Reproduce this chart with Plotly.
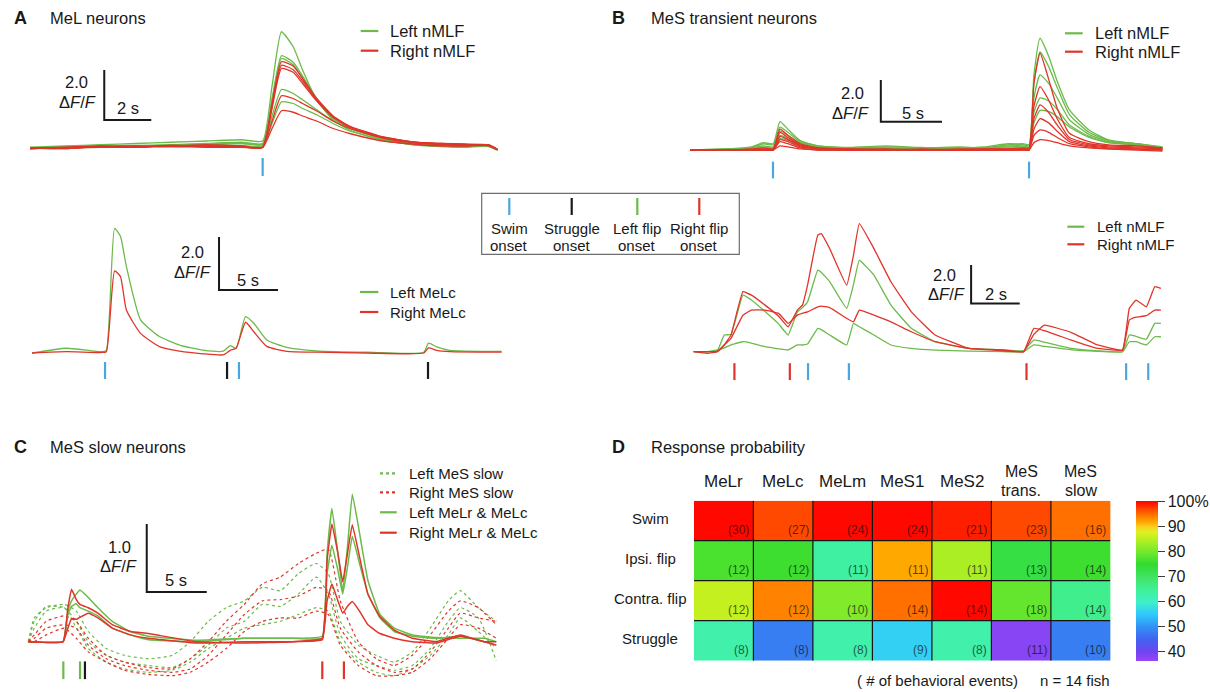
import plotly.graph_objects as go

W, H = 1210, 692
GREEN = "rgb(108,186,74)"
RED = "rgb(224,52,42)"
BLUE = "rgb(74,166,222)"
BLACK = "rgb(25,25,25)"
FONT = "Liberation Sans, Arial, Helvetica, sans-serif"
TICK_COLORS = {"swim": BLUE, "struggle": BLACK, "left": GREEN, "right": RED}

# ---------------- DATA ----------------
# Panel A (top): MeL neurons, time (s) / dF/F
A_TOP_T = [0, 1.5, 3, 4.5, 6, 7.5, 9, 9.9, 10.3, 10.7, 11.2, 11.6, 12.2, 12.9, 13.6, 15.0, 16.4, 17.5, 18.5, 19.5, 19.9]
A_TOP_GREEN = [
    [0.05, 0.1, 0.15, 0.2, 0.25, 0.3, 0.35, 0.3, 2.5, 4.67, 4.07, 3.14, 1.94, 1.14, 0.74, 0.34, 0.14, 0.1, 0.08, 0.1, -0.08],
    [0.02, 0.05, 0.1, 0.12, 0.15, 0.2, 0.25, 0.2, 2.0, 3.71, 3.45, 2.9, 2.0, 1.25, 0.85, 0.4, 0.18, 0.1, 0.08, 0.1, -0.05],
    [0.0, 0.06, 0.12, 0.1, 0.14, 0.18, 0.22, 0.18, 1.9, 3.6, 3.35, 2.8, 1.95, 1.2, 0.82, 0.38, 0.17, 0.1, 0.08, 0.1, -0.05],
    [0.0, 0.05, 0.08, 0.1, 0.12, 0.15, 0.2, 0.15, 1.3, 2.36, 2.2, 1.95, 1.55, 1.1, 0.8, 0.4, 0.18, 0.1, 0.08, 0.1, -0.05],
    [0.0, 0.03, 0.05, 0.08, 0.1, 0.1, 0.12, 0.1, 1.0, 1.87, 1.8, 1.6, 1.35, 1.0, 0.7, 0.35, 0.15, 0.08, 0.05, 0.08, -0.05],
]
A_TOP_RED = [
    [0.0, 0.05, 0.1, 0.08, 0.1, 0.15, 0.1, 0.05, 1.8, 3.47, 3.3, 2.8, 2.0, 1.3, 0.9, 0.47, 0.25, 0.18, 0.15, 0.12, -0.05],
    [0.02, 0.0, 0.08, 0.05, 0.12, 0.1, 0.08, 0.05, 1.7, 3.33, 3.15, 2.7, 1.95, 1.28, 0.88, 0.45, 0.25, 0.2, 0.16, 0.14, -0.04],
    [0.02, 0.0, 0.08, 0.05, 0.12, 0.1, 0.08, 0.05, 1.6, 3.2, 3.05, 2.6, 1.9, 1.25, 0.85, 0.45, 0.25, 0.2, 0.18, 0.15, -0.03],
    [0.0, 0.04, 0.06, 0.1, 0.08, 0.1, 0.06, 0.05, 1.1, 2.11, 2.0, 1.8, 1.5, 1.1, 0.8, 0.42, 0.22, 0.15, 0.12, 0.15, -0.05],
    [0.0, 0.02, 0.05, 0.05, 0.08, 0.05, 0.05, 0.03, 0.8, 1.51, 1.45, 1.3, 1.1, 0.8, 0.6, 0.3, 0.17, 0.1, 0.1, 0.12, -0.05],
]
A_TOP_ONSETS = [9.9]
A_TOP_KINDS = ["swim"]

# Panel A (bottom): MeLc
A_BOT_T = [0, 2.9, 5.9, 6.3, 7.0, 7.5, 8.0, 9.2, 10.8, 12.5, 14.5, 16.2, 16.8, 17.3, 18.1, 18.8, 19.9, 21.6, 24.1, 28.4, 33.2, 33.6, 34.3, 35.4, 39.8]
A_BOT_GREEN = [0, 0.18, 0.05, 0.1, 4.7, 4.4, 3.26, 1.25, 0.62, 0.3, 0.11, 0.07, 0.28, 0.18, 1.37, 1.12, 0.49, 0.21, 0.08, 0.03, 0.03, 0.37, 0.23, 0.1, 0.06]
A_BOT_RED = [0, 0.05, 0.02, 0.05, 3.1, 2.88, 1.62, 0.74, 0.24, 0.07, -0.03, -0.07, 0.1, 0.18, 1.16, 0.8, 0.25, 0.06, 0.03, 0.0, 0.0, 0.19, 0.1, 0.05, 0.03]
A_BOT_ONSETS = [6.19, 16.53, 17.54, 33.56]
A_BOT_KINDS = ["swim", "struggle", "swim", "struggle"]

# Panel B (top): MeS transient neurons
B_TOP_T = [0, 3, 5, 6.0, 6.8, 7.35, 8.0, 9.0, 10.5, 13, 16, 19, 22, 24, 26, 27.2, 27.7, 28.1, 28.6, 29.3, 30.0, 31.0, 32.6, 34.2, 36.5, 38.6]
B_TOP_GREEN = [
    [0, 0.05, 0.15, 0.35, 0.3, 1.36, 1.0, 0.45, 0.2, 0.12, 0.2, 0.1, 0.15, 0.1, 0.25, 0.3, 0.25, 3.6, 5.36, 4.5, 3.3, 1.92, 0.96, 0.48, 0.3, 0.1],
    [0, 0.0, 0.1, 0.3, 0.25, 1.1, 0.85, 0.4, 0.2, 0.1, 0.15, 0.12, 0.1, 0.15, 0.3, 0.25, 0.2, 3.2, 4.7, 4.0, 3.0, 1.7, 0.85, 0.45, 0.3, 0.1],
    [0, 0.05, 0.1, 0.2, 0.15, 0.9, 0.7, 0.35, 0.15, 0.1, 0.1, 0.05, 0.1, 0.1, 0.2, 0.2, 0.15, 2.5, 3.6, 3.2, 2.5, 1.45, 0.75, 0.4, 0.3, 0.15],
    [0, 0.0, 0.05, 0.15, 0.1, 0.7, 0.55, 0.3, 0.12, 0.08, 0.1, 0.05, 0.05, 0.1, 0.15, 0.15, 0.1, 1.8, 2.5, 2.35, 1.95, 1.2, 0.65, 0.35, 0.25, 0.1],
    [0, 0.03, 0.05, 0.1, 0.08, 0.55, 0.45, 0.25, 0.1, 0.05, 0.08, 0.05, 0.05, 0.08, 0.1, 0.1, 0.08, 1.3, 1.9, 1.85, 1.6, 1.1, 0.6, 0.35, 0.25, 0.05],
]
B_TOP_RED = [
    [0, 0.0, 0.05, 0.1, 0.05, 1.0, 0.7, 0.3, 0.1, 0.05, 0.05, 0.0, 0.05, 0.05, 0.05, 0.1, 0.1, 3.2, 4.64, 3.4, 2.0, 0.8, 0.4, 0.25, 0.2, 0.1],
    [0, 0.0, 0.0, 0.05, 0.05, 0.85, 0.6, 0.25, 0.1, 0.05, 0.0, 0.05, 0.0, 0.05, 0.05, 0.05, 0.05, 2.1, 3.04, 2.4, 1.5, 0.6, 0.3, 0.2, 0.15, 0.1],
    [0, 0.02, 0.0, 0.03, 0.0, 0.65, 0.5, 0.2, 0.05, 0.0, 0.03, 0.0, 0.0, 0.0, 0.03, 0.05, 0.0, 1.5, 2.16, 1.8, 1.2, 0.5, 0.25, 0.15, 0.1, 0.05],
    [0, 0.0, 0.02, 0.0, 0.0, 0.5, 0.4, 0.15, 0.05, 0.0, 0.0, 0.02, 0.0, 0.0, 0.0, 0.03, 0.0, 1.0, 1.5, 1.3, 0.9, 0.4, 0.2, 0.1, 0.05, 0.0],
    [0, 0.0, 0.0, 0.0, 0.0, 0.4, 0.3, 0.1, 0.0, 0.0, 0.0, 0.0, 0.0, 0.0, 0.0, 0.0, 0.0, 0.7, 0.96, 0.85, 0.6, 0.3, 0.15, 0.05, 0.05, 0.0],
    [0, 0.0, 0.0, 0.0, 0.0, 0.2, 0.15, 0.05, 0.0, 0.0, 0.0, 0.0, 0.0, 0.0, 0.0, 0.0, 0.0, 0.35, 0.5, 0.45, 0.35, 0.2, 0.1, 0.05, 0.0, -0.05],
]
B_TOP_ONSETS = [6.78, 27.7]
B_TOP_KINDS = ["swim", "swim"]

# Panel B (bottom)
B_BOT_T = [0, 0.56, 0.98, 1.26, 1.54, 2.03, 2.38, 2.94, 3.5, 3.89, 4.27, 4.48, 4.69, 5.11, 5.25, 5.6, 6.3, 6.58, 6.82,
           7.42, 8.12, 8.96, 9.94, 11.34, 12.75, 13.58, 14.0, 14.43, 15.55, 16.53, 17.65, 17.93, 18.21, 18.63, 18.98, 19.23]
B_BOT_GREEN = [
    [0, 0, 0.05, 0.87, 0.9, 2.95, 2.7, 2.1, 1.45, 0.87, 2.08, 2.3, 2.6, 4.25, 4.15, 3.65, 2.26, 3.5, 4.77,
     4.0, 2.43, 1.22, 0.52, 0.17, 0.1, 0.05, 0.61, 0.5, 0.17, 0.05, 0.0, 0.87, 0.8, 0.65, 1.48, 1.48],
    [0, 0, 0.09, 0.2, 0.35, 0.52, 0.45, 0.26, 0.15, 0.09, 0.35, 0.35, 0.4, 1.22, 1.15, 0.87, 0.35, 1.48, 1.3,
     0.87, 0.35, 0.17, 0.08, 0.03, 0.0, 0.0, 0.35, 0.28, 0.1, 0.03, 0.0, 0.52, 0.52, 0.35, 0.78, 0.78],
]
B_BOT_RED = [
    [0, -0.08, 0, 0.35, 0.87, 3.13, 2.95, 2.43, 1.85, 1.3, 2.17, 2.43, 3.47, 6.08, 6.16, 5.38, 3.47, 5.04, 6.68,
     5.38, 3.65, 2.08, 0.87, 0.17, 0.09, 0.0, 1.22, 1.1, 0.6, 0.2, 0.09, 2.26, 2.69, 2.34, 3.39, 3.3],
    [0, 0, 0.02, 0.35, 0.7, 1.9, 2.17, 2.17, 2.0, 1.48, 1.91, 2.0, 2.08, 2.34, 2.38, 2.3, 1.74, 1.56, 2.17,
     1.91, 1.56, 1.04, 0.52, 0.17, 0.05, 0.0, 0.9, 1.39, 1.0, 0.4, 0.08, 1.65, 1.8, 1.88, 2.17, 2.17],
]
B_BOT_ONSETS = [1.68, 3.96, 4.71, 6.39, 13.7, 17.8, 18.71]
B_BOT_KINDS = ["right", "right", "swim", "swim", "right", "swim", "swim"]

# Panel C: MeS slow neurons
C_DOT_T = [0, 0.5, 1.5, 3, 4, 5, 6.5, 8, 10, 12, 13.5, 15, 16.5, 18, 19.5, 21, 22.5, 24, 25, 26, 27.5, 29, 30.5, 32, 33.5, 35, 36, 37.5, 39]
C_DOT_GREEN = [
    [0, 0.35, 0.5, 0.55, 0.45, 0.15, -0.1, -0.2, -0.25, -0.2, 0.0, 0.3, 0.5, 0.6, 0.8, 0.75, 1.0, 1.15, 1.0, 0.3, -0.05, -0.2, -0.3, -0.15, 0.2, 0.6, 0.75, 0.5, 0.3],
    [0, 0.3, 0.52, 0.5, 0.3, 0.0, -0.2, -0.3, -0.35, -0.38, -0.25, -0.05, 0.2, 0.3, 0.55, 0.52, 0.7, 0.95, 0.7, 0.1, -0.25, -0.35, -0.42, -0.35, -0.1, 0.3, 0.5, 0.35, -0.28],
    [0, 0.2, 0.45, 0.5, 0.2, -0.1, -0.3, -0.4, -0.45, -0.42, -0.3, -0.1, 0.05, 0.2, 0.25, 0.3, 0.4, 0.5, 0.45, 0.0, -0.3, -0.45, -0.5, -0.4, -0.2, 0.1, 0.35, 0.15, -0.1],
]
C_DOT_RED = [
    [0, 0.1, 0.3, 0.38, 0.3, 0.05, -0.2, -0.3, -0.38, -0.4, -0.25, 0.0, 0.3, 0.55, 0.85, 0.95, 1.15, 1.3, 1.36, 0.6, 0.0, -0.25, -0.35, -0.2, 0.1, 0.45, 0.6, 0.5, 0.25],
    [0, 0.05, 0.2, 0.25, 0.2, -0.05, -0.25, -0.35, -0.42, -0.45, -0.4, -0.2, 0.1, 0.4, 0.6, 0.62, 0.67, 0.8, 0.75, 0.2, -0.15, -0.35, -0.45, -0.4, -0.15, 0.2, 0.42, 0.35, 0.3],
    [0, 0.0, 0.1, 0.2, 0.05, -0.15, -0.3, -0.42, -0.48, -0.5, -0.45, -0.3, -0.1, 0.15, 0.3, 0.35, 0.35, 0.45, 0.4, -0.05, -0.35, -0.5, -0.5, -0.45, -0.25, 0.05, 0.25, 0.2, 0.05],
]
C_SOLID_T = [0, 2.9, 3.3, 3.6, 4.0, 4.3, 5.0, 5.8, 7.0, 8.5, 10, 14, 18, 22, 24.5, 24.9, 25.3, 25.8, 26.2, 26.6, 27.0, 27.6, 28.3, 29.3, 30.5, 32, 34, 36, 38, 39]
C_SOLID_GREEN = [
    [0, 0, 0.45, 0.6, 0.7, 0.76, 0.65, 0.5, 0.3, 0.15, 0.08, 0.02, 0.05, 0.05, 0.08, 1.3, 1.96, 1.3, 0.74, 1.4, 2.17, 1.6, 0.9, 0.4, 0.2, 0.1, 0.06, 0.05, 0.05, 0.0],
    [0, 0, 0.4, 0.52, 0.56, 0.5, 0.45, 0.38, 0.2, 0.1, 0.03, 0.0, 0.05, 0.05, 0.05, 1.0, 1.42, 1.05, 0.7, 1.1, 1.55, 1.15, 0.7, 0.35, 0.15, 0.08, 0.05, 0.08, 0.0, -0.05],
]
C_SOLID_RED = [
    [0, 0, 0.5, 0.77, 0.62, 0.55, 0.5, 0.42, 0.25, 0.15, 0.12, 0.0, -0.02, 0.0, 0.05, 1.2, 1.73, 1.3, 0.88, 1.3, 1.72, 1.25, 0.7, 0.37, 0.17, 0.05, 0.0, 0.1, 0.0, 0.0],
    [0, 0, 0.2, 0.34, 0.33, 0.36, 0.42, 0.35, 0.2, 0.1, 0.05, -0.02, 0.0, 0.0, 0.03, 0.6, 0.85, 0.6, 0.42, 0.52, 0.59, 0.45, 0.25, 0.12, 0.05, 0.0, -0.02, 0.08, 0.0, -0.05],
]
C_ONSETS = [2.92, 4.31, 4.72, 24.5, 26.3]
C_KINDS = ["left", "left", "struggle", "right", "right"]

# Panel D: response probability (%) and number of events
D_COLS = ["MeLr", "MeLc", "MeLm", "MeS1", "MeS2", "MeS<br>trans.", "MeS<br>slow"]
D_ROWS = ["Swim", "Ipsi. flip", "Contra. flip", "Struggle"]
D_PROB = [
    [100, 97, 100, 100, 99, 97, 95],
    [77, 76, 64, 92, 84, 73, 76],
    [86, 94, 81, 95, 100, 79, 66],
    [63, 48, 63, 56, 63, 38, 48],
]
D_COUNTS = [
    [30, 27, 24, 24, 21, 23, 16],
    [12, 12, 11, 11, 11, 13, 14],
    [12, 12, 10, 14, 14, 18, 14],
    [8, 8, 8, 9, 8, 11, 10],
]
CB_TICKS = [40, 50, 60, 70, 80, 90, 100]
CB_LABELS = ["40", "50", "60", "70", "80", "90", "100%"]

# ---------------- FIGURE ----------------
def px(X):
    return X / W

def py(Y):
    return 1 - Y / H

fig = go.Figure()
layout = {}
annotations = []
shapes = []

def axname(i):
    return ("x", "y") if i == 1 else (f"x{i}", f"y{i}")

def add_axes(i, Xo, sx, Yb, sy, X0, X1, Y0, Y1):
    xn = "xaxis" if i == 1 else f"xaxis{i}"
    yn = "yaxis" if i == 1 else f"yaxis{i}"
    xa, ya = axname(i)
    layout[xn] = dict(domain=[px(X0), px(X1)], range=[(X0 - Xo) / sx, (X1 - Xo) / sx],
                      visible=False, anchor=ya, fixedrange=True)
    layout[yn] = dict(domain=[py(Y1), py(Y0)], range=[(Yb - Y1) / sy, (Yb - Y0) / sy],
                      visible=False, anchor=xa, fixedrange=True)

def line_trace(i, t, v, color, dash="solid", width=1.3, smooth=0.5):
    xa, ya = axname(i)
    fig.add_trace(go.Scatter(x=t, y=v, mode="lines", xaxis=xa, yaxis=ya, showlegend=False,
                             hoverinfo="skip",
                             line=dict(color=color, width=width, dash=dash, shape="spline", smoothing=smooth)))

def onset_ticks(i, times, kinds, vlo, vhi):
    xa, ya = axname(i)
    for t, k in zip(times, kinds):
        fig.add_trace(go.Scatter(x=[t, t], y=[vlo, vhi], mode="lines", xaxis=xa, yaxis=ya,
                                 showlegend=False, hoverinfo="skip",
                                 line=dict(color=TICK_COLORS[k], width=2.2)))

def scale_bar(i, t0, v0, dt, dv):
    xa, ya = axname(i)
    fig.add_trace(go.Scatter(x=[t0, t0, t0 + dt], y=[v0 + dv, v0, v0], mode="lines", xaxis=xa, yaxis=ya,
                             showlegend=False, hoverinfo="skip", line=dict(color=BLACK, width=2)))

def text(X, Y, s, size=17, anchor="center", bold=False, color=BLACK):
    if bold:
        s = f"<b>{s}</b>"
    annotations.append(dict(x=px(X), y=py(Y), xref="paper", yref="paper", text=s, showarrow=False,
                            xanchor=anchor, yanchor="middle",
                            font=dict(family=FONT, size=size, color=color)))

def scale_text(Xv, Yv, Xf, Yf, Xs, Ys, vtxt, stxt):
    text(Xv, Yv, vtxt, 16.5, "center")
    text(Xf, Yf, "Δ<i>F</i>/<i>F</i>", 16.5, "right")
    text(Xs, Ys, stxt, 16.5, "center")

def legend_item(X0, X1, Y, color, label, Xt, size, dash="solid"):
    shapes.append(dict(type="line", xref="paper", yref="paper", x0=px(X0), x1=px(X1), y0=py(Y), y1=py(Y),
                       line=dict(color=color, width=2.2, dash=dash)))
    text(Xt, Y, label, size, "left")

# ---- Panel A top ----
add_axes(1, 30, 23.5, 148.5, 25, 20, 510, 15, 190)
for v in A_TOP_GREEN:
    line_trace(1, A_TOP_T, v, GREEN)
for v in A_TOP_RED:
    line_trace(1, A_TOP_T, v, RED)
onset_ticks(1, A_TOP_ONSETS, A_TOP_KINDS, -0.38, -1.1)
scale_bar(1, 3.16, 1.14, 2, 2.0)
scale_text(76, 82.5, 98.3, 101.5, 128, 108.3, "2.0", "2 s")
text(12, 18.3, "A", 18, "left", bold=True)
text(48.3, 18.3, "MeL neurons", 16.5, "left")
legend_item(360.7, 378.3, 31, GREEN, "Left nMLF", 388.3, 16.5)
legend_item(360.7, 378.3, 50.7, RED, "Right nMLF", 388.3, 16.5)

# ---- Panel A bottom ----
add_axes(2, 32, 11.8, 353, 26.5, 20, 510, 200, 390)
line_trace(2, A_BOT_T, A_BOT_GREEN, GREEN)
line_trace(2, A_BOT_T, A_BOT_RED, RED)
onset_ticks(2, A_BOT_ONSETS, A_BOT_KINDS, -0.34, -0.98)
scale_bar(2, 15.85, 2.38, 5, 2.0)
scale_text(192, 252, 213, 272, 248, 280, "2.0", "5 s")
legend_item(360, 378.3, 292, GREEN, "Left MeLc", 388.3, 15)
legend_item(360, 378.3, 312, RED, "Right MeLc", 388.3, 15)

# ---- Panel B top ----
add_axes(3, 690, 12.24, 150, 20.85, 680, 1170, 15, 190)
for v in B_TOP_GREEN:
    line_trace(3, B_TOP_T, v, GREEN)
for v in B_TOP_RED:
    line_trace(3, B_TOP_T, v, RED)
onset_ticks(3, B_TOP_ONSETS, B_TOP_KINDS, -0.56, -1.36)
scale_bar(3, 15.59, 1.36, 5, 2.0)
scale_text(852.6, 93.3, 870.6, 113, 912.5, 113, "2.0", "5 s")
text(609.8, 18.3, "B", 18, "left", bold=True)
text(648.9, 18.3, "MeS transient neurons", 16.5, "left")
legend_item(1065, 1082.7, 33.3, GREEN, "Left nMLF", 1092.7, 16.5)
legend_item(1065, 1082.7, 51.7, RED, "Right nMLF", 1092.7, 16.5)

# ---- Panel B bottom ----
add_axes(4, 693.6, 24.3, 351.7, 19.17, 685, 1170, 200, 390)
for v in B_BOT_GREEN:
    line_trace(4, B_BOT_T, v, GREEN, smooth=0.3)
for v in B_BOT_RED:
    line_trace(4, B_BOT_T, v, RED, smooth=0.3)
onset_ticks(4, B_BOT_ONSETS, B_BOT_KINDS, -0.6, -1.48)
scale_bar(4, 11.42, 2.52, 2, 2.0)
scale_text(945, 275, 967, 294.3, 996, 294.3, "2.0", "2 s")
legend_item(1067.4, 1084.3, 226.7, GREEN, "Left nMLF", 1094.5, 15)
legend_item(1067.4, 1084.3, 244.3, RED, "Right nMLF", 1094.5, 15)

# ---- Panel C ----
add_axes(5, 28.3, 12, 641.7, 68, 15, 505, 470, 690)
for v in C_DOT_GREEN:
    line_trace(5, C_DOT_T, v, GREEN, dash="dot", width=1.2)
for v in C_DOT_RED:
    line_trace(5, C_DOT_T, v, RED, dash="dot", width=1.2)
for v in C_SOLID_GREEN:
    line_trace(5, C_SOLID_T, v, GREEN, width=1.5, smooth=0.3)
for v in C_SOLID_RED:
    line_trace(5, C_SOLID_T, v, RED, width=1.5, smooth=0.3)
onset_ticks(5, C_ONSETS, C_KINDS, -0.29, -0.55)
scale_bar(5, 9.87, 0.73, 5, 1.0)
scale_text(119.3, 546.7, 139.3, 566, 175.7, 580, "1.0", "5 s")
text(11.7, 446.7, "C", 18, "left", bold=True)
text(48.3, 446.7, "MeS slow neurons", 16.5, "left")
legend_item(380, 396.7, 473.3, GREEN, "Left MeS slow", 407.3, 15, dash="dot")
legend_item(380, 396.7, 492.3, RED, "Right MeS slow", 407.3, 15, dash="dot")
legend_item(380, 396.7, 512.3, GREEN, "Left MeLr &amp; MeLc", 407.3, 15)
legend_item(380, 396.7, 532.7, RED, "Right MeLr &amp; MeLc", 407.3, 15)

# ---- Center event legend box ----
shapes.append(dict(type="rect", xref="paper", yref="paper", x0=px(481.7), x1=px(739.3),
                   y0=py(254.3), y1=py(193.3), line=dict(color="rgb(110,110,110)", width=1.2)))
box_items = [(509.3, "swim", "Swim"), (571.7, "struggle", "Struggle"),
             (637.3, "left", "Left flip"), (699.3, "right", "Right flip")]
for X, k, lab in box_items:
    shapes.append(dict(type="line", xref="paper", yref="paper", x0=px(X), x1=px(X), y0=py(198), y1=py(215),
                       line=dict(color=TICK_COLORS[k], width=2.2)))
    text(X, 228.3, lab, 15)
    text(X, 245, "onset", 15)

# ---- Panel D heatmap ----
colorscale_pts = [(36.4, "#9b45f5"), (40, "#7044f3"), (45, "#4262f0"), (50, "#3290f5"), (55, "#30c8ff"),
                  (60, "#3ff0c8"), (65, "#40f098"), (70, "#40e462"), (75, "#30dc30"), (80, "#72e82e"),
                  (85, "#b8f020"), (88, "#e0f020"), (90, "#f8d020"), (92, "#ffa800"), (95, "#ff7000"),
                  (97, "#ff4800"), (100.4, "#ff0000")]
zmin, zmax = 36.4, 100.4
colorscale = [[(v - zmin) / (zmax - zmin), c] for v, c in colorscale_pts]
layout["xaxis6"] = dict(domain=[px(693.9), px(1110.4)], range=[-0.5, 6.5], visible=False, anchor="y6", fixedrange=True)
layout["yaxis6"] = dict(domain=[py(660.7), py(500.7)], range=[3.5, -0.5], visible=False, anchor="x6", fixedrange=True)
fig.add_trace(go.Heatmap(
    z=D_PROB, x=list(range(len(D_COLS))), y=list(range(len(D_ROWS))), xaxis="x6", yaxis="y6",
    colorscale=colorscale, zmin=zmin, zmax=zmax, hoverinfo="skip",
    colorbar=dict(x=px(1136), xanchor="left", xpad=0, y=py(580.7), yanchor="middle", ypad=0,
                  len=160, lenmode="pixels", thickness=21.5, outlinewidth=0,
                  tickvals=CB_TICKS, ticktext=CB_LABELS, ticks="outside", ticklen=7, tickwidth=1.3,
                  tickcolor="rgb(60,60,60)", tickfont=dict(family=FONT, size=16, color=BLACK))))
for k in range(1, len(D_COLS)):
    shapes.append(dict(type="line", xref="x6", yref="y6", x0=k - 0.5, x1=k - 0.5, y0=-0.5, y1=3.5,
                       line=dict(color="rgb(20,20,20)", width=1.2)))
for k in range(1, len(D_ROWS)):
    shapes.append(dict(type="line", xref="x6", yref="y6", x0=-0.5, x1=6.5, y0=k - 0.5, y1=k - 0.5,
                       line=dict(color="rgb(20,20,20)", width=1.2)))
for r, row in enumerate(D_COUNTS):
    for c, n in enumerate(row):
        annotations.append(dict(x=c + 0.5, y=r + 0.5, xref="x6", yref="y6", text=f"({n})", showarrow=False,
                                xanchor="right", yanchor="bottom", xshift=-2, yshift=2,
                                font=dict(family=FONT, size=12, color="rgba(15,15,15,0.7)")))
for c, lab in enumerate(D_COLS):
    parts = lab.split("<br>")
    if len(parts) == 1:
        annotations.append(dict(x=c, y=py(481), xref="x6", yref="paper", text=parts[0], showarrow=False,
                                xanchor="center", yanchor="middle", font=dict(family=FONT, size=17, color=BLACK)))
    else:
        for p, Yl in zip(parts, (471.5, 490.5)):
            annotations.append(dict(x=c, y=py(Yl), xref="x6", yref="paper", text=p, showarrow=False,
                                    xanchor="center", yanchor="middle", font=dict(family=FONT, size=16, color=BLACK)))
for r, lab in enumerate(D_ROWS):
    annotations.append(dict(x=px(650), y=r - 0.05, xref="paper", yref="y6", text=lab, showarrow=False,
                            xanchor="center", yanchor="middle", font=dict(family=FONT, size=15, color=BLACK)))
text(609.8, 446.7, "D", 18, "left", bold=True)
text(648.9, 446.7, "Response probability", 16.5, "left")
text(937, 680, "( # of behavioral events)", 15)
text(1075, 680, "n = 14 fish", 15)

fig.update_layout(**layout)
fig.update_layout(width=W, height=H, autosize=False, margin=dict(l=0, r=0, t=0, b=0),
                  paper_bgcolor="white", plot_bgcolor="rgba(0,0,0,0)",
                  annotations=annotations, shapes=shapes, showlegend=False,
                  font=dict(family=FONT, color=BLACK))
fig.write_html("out.html", config={"displayModeBar": False})
